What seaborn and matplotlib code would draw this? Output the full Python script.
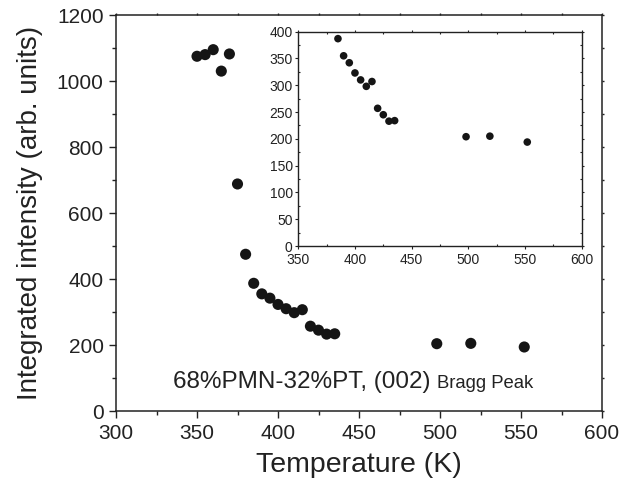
import matplotlib
matplotlib.use("Agg")
import matplotlib.pyplot as plt
from matplotlib.ticker import MultipleLocator
import seaborn as sns
import pandas as pd

# ---- data ----
temperature = [350, 355, 360, 365, 370, 375, 380, 385, 390, 395, 400, 405,
               410, 415, 420, 425, 430, 435, 498, 519, 552]
intensity = [1075, 1080, 1095, 1030, 1082, 688, 475, 387, 355, 342, 323, 310,
             298, 307, 257, 245, 233, 234, 204, 205, 194]
inset_start_T = 385

x_ticks_main = [300, 350, 400, 450, 500, 550, 600]
y_ticks_main = [0, 200, 400, 600, 800, 1000, 1200]
x_ticks_inset = [350, 400, 450, 500, 550, 600]
y_ticks_inset = [0, 50, 100, 150, 200, 250, 300, 350, 400]

df = pd.DataFrame({"T": temperature, "I": intensity})
df_inset = df[df["T"] >= inset_start_T]

sns.set_style("ticks")
plt.rcParams["font.family"] = ["Liberation Sans", "DejaVu Sans"]
plt.rcParams["text.color"] = "#222222"
plt.rcParams["axes.labelcolor"] = "#222222"
plt.rcParams["xtick.color"] = "#222222"
plt.rcParams["ytick.color"] = "#222222"

fig = plt.figure(figsize=(6.2, 4.86), dpi=100)
ax = fig.add_axes([0.1871, 0.1543, 0.7839, 0.8148])

sns.scatterplot(data=df, x="T", y="I", ax=ax, s=64, color="#151515",
                edgecolor="none", legend=False, zorder=3)

ax.set_xlim(300, 600)
ax.set_ylim(0, 1200)
ax.set_xticks(x_ticks_main)
ax.set_yticks(y_ticks_main)
ax.xaxis.set_minor_locator(MultipleLocator(25))
ax.yaxis.set_minor_locator(MultipleLocator(100))
ax.set_xlabel("Temperature (K)", fontsize=20.5, labelpad=7)
ax.set_ylabel("Integrated intensity (arb. units)", fontsize=20, labelpad=10)
ax.tick_params(axis="both", which="major", labelsize=15, direction="out",
               length=5, width=1, pad=4)
ax.tick_params(axis="both", which="minor", direction="out", length=3, width=1)
ax.tick_params(top=True, right=True, which="both")
for sp in ax.spines.values():
    sp.set_visible(True)
    sp.set_linewidth(1.1)
    sp.set_color("#222222")

# shorter mirrored ticks on top/right
for t in ax.xaxis.get_major_ticks() + ax.xaxis.get_minor_ticks():
    t.tick2line.set_markersize(1.5)
for t in ax.yaxis.get_major_ticks() + ax.yaxis.get_minor_ticks():
    t.tick2line.set_markersize(1.5)

ax.text(335, 70, "68%PMN-32%PT, (002)", fontsize=17.5, ha="left", va="baseline")
ax.text(498.3, 70, "Bragg Peak", fontsize=13.3, ha="left", va="baseline")

# ---- inset ----
axin = fig.add_axes([0.4811, 0.4938, 0.4571, 0.441])
sns.scatterplot(data=df_inset, x="T", y="I", ax=axin, s=30, color="#151515",
                edgecolor="none", legend=False, zorder=3)
axin.set_xlim(350, 600)
axin.set_ylim(0, 400)
axin.set_xticks(x_ticks_inset)
axin.set_yticks(y_ticks_inset)
axin.xaxis.set_minor_locator(MultipleLocator(25))
axin.yaxis.set_minor_locator(MultipleLocator(25))
axin.set_xlabel("")
axin.set_ylabel("")
axin.tick_params(axis="both", which="major", labelsize=10, direction="out",
                 length=2.5, width=0.8, pad=1.5)
axin.tick_params(axis="x", which="major", pad=2.5)
axin.tick_params(axis="both", which="minor", direction="in", length=1.5, width=0.8)
axin.tick_params(top=True, right=True, which="both")
for t in axin.xaxis.get_major_ticks() + axin.xaxis.get_minor_ticks():
    t.tick2line.set_markersize(1.2)
for t in axin.yaxis.get_major_ticks() + axin.yaxis.get_minor_ticks():
    t.tick2line.set_markersize(1.2)
for sp in axin.spines.values():
    sp.set_visible(True)
    sp.set_linewidth(1.0)
    sp.set_color("#222222")

fig.savefig("out.png", dpi=100)
